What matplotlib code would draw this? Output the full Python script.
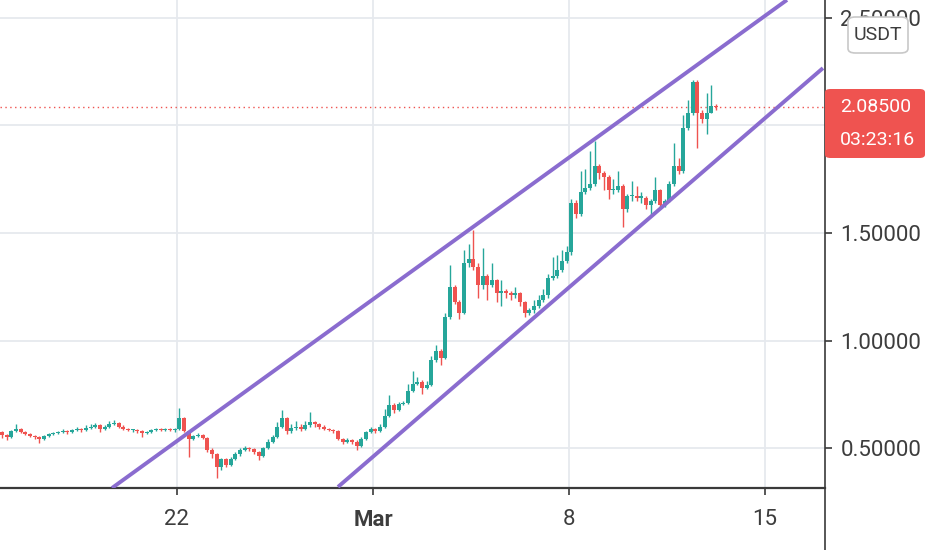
import numpy as np
import pandas as pd
import matplotlib
matplotlib.use("Agg")
import matplotlib.pyplot as plt
import matplotlib.dates as mdates
from matplotlib.patches import FancyBboxPatch
from matplotlib.lines import Line2D

# 4h candles
closes = [0.56, 0.55, 0.58, 0.59, 0.575, 0.565, 0.555, 0.55, 0.54, 0.555,
          0.565, 0.57, 0.575, 0.58, 0.575, 0.585, 0.59, 0.585, 0.595, 0.60,
          0.605, 0.59, 0.60, 0.61, 0.615, 0.60, 0.59, 0.585, 0.585, 0.58,
          0.57, 0.575, 0.585, 0.59, 0.585, 0.59, 0.585, 0.59, 0.64, 0.58,
          0.54, 0.555, 0.56, 0.545, 0.49, 0.47, 0.41, 0.45, 0.42, 0.45,
          0.47, 0.49, 0.50, 0.495, 0.48, 0.465, 0.50, 0.53, 0.55, 0.60,
          0.64, 0.58, 0.595, 0.60, 0.59, 0.605, 0.62, 0.61, 0.60, 0.59,
          0.585, 0.58, 0.54, 0.53, 0.535, 0.53, 0.51, 0.54, 0.575, 0.59,
          0.58, 0.60, 0.65, 0.70, 0.675, 0.705, 0.71, 0.765, 0.80, 0.805,
          0.78, 0.795, 0.91, 0.95, 0.92, 1.11, 1.25, 1.18, 1.13, 1.36,
          1.38, 1.34, 1.26, 1.30, 1.26, 1.28, 1.22, 1.23, 1.22, 1.21,
          1.22, 1.18, 1.13, 1.14, 1.16, 1.19, 1.21, 1.29, 1.30, 1.33,
          1.37, 1.41, 1.64, 1.59, 1.69, 1.71, 1.73, 1.81, 1.78, 1.76,
          1.70, 1.70, 1.72, 1.61, 1.67, 1.67, 1.665, 1.665, 1.63, 1.65,
          1.70, 1.63, 1.65, 1.73, 1.81, 1.79, 1.99, 2.06, 2.20, 2.06,
          2.03, 2.06, 2.09, 2.085]
highs = [0.58, 0.565, 0.585, 0.61, 0.595, 0.58, 0.57, 0.56, 0.555, 0.56,
         0.57, 0.575, 0.58, 0.59, 0.585, 0.59, 0.60, 0.595, 0.605, 0.61,
         0.615, 0.61, 0.605, 0.625, 0.63, 0.62, 0.605, 0.595, 0.59, 0.59,
         0.585, 0.58, 0.59, 0.595, 0.595, 0.595, 0.595, 0.595, 0.686, 0.645,
         0.585, 0.56, 0.57, 0.565, 0.55, 0.50, 0.475, 0.455, 0.455, 0.46,
         0.48, 0.50, 0.51, 0.505, 0.50, 0.485, 0.505, 0.54, 0.56, 0.62,
         0.677, 0.645, 0.61, 0.625, 0.61, 0.625, 0.667, 0.625, 0.615, 0.605,
         0.595, 0.59, 0.585, 0.545, 0.545, 0.54, 0.535, 0.55, 0.58, 0.60,
         0.595, 0.61, 0.68, 0.745, 0.71, 0.715, 0.72, 0.80, 0.86, 0.83,
         0.815, 0.81, 0.93, 0.98, 0.96, 1.13, 1.35, 1.26, 1.19, 1.42,
         1.45, 1.514, 1.36, 1.43, 1.31, 1.36, 1.285, 1.28, 1.24, 1.23,
         1.25, 1.225, 1.185, 1.15, 1.19, 1.21, 1.24, 1.31, 1.39, 1.40,
         1.42, 1.44, 1.66, 1.655, 1.79, 1.80, 1.88, 1.93, 1.82, 1.79,
         1.77, 1.75, 1.79, 1.73, 1.68, 1.74, 1.72, 1.69, 1.67, 1.66,
         1.76, 1.705, 1.66, 1.74, 1.92, 1.85, 2.05, 2.12, 2.21, 2.21,
         2.07, 2.15, 2.19, 2.10]
lows = [0.545, 0.535, 0.545, 0.575, 0.57, 0.56, 0.55, 0.54, 0.525, 0.535,
        0.55, 0.56, 0.565, 0.57, 0.565, 0.57, 0.58, 0.575, 0.58, 0.59,
        0.595, 0.575, 0.585, 0.595, 0.605, 0.595, 0.585, 0.58, 0.575, 0.57,
        0.55, 0.565, 0.57, 0.58, 0.58, 0.58, 0.58, 0.575, 0.585, 0.575,
        0.458, 0.535, 0.55, 0.54, 0.48, 0.455, 0.36, 0.40, 0.41, 0.415,
        0.445, 0.465, 0.485, 0.485, 0.47, 0.445, 0.46, 0.495, 0.525, 0.545,
        0.595, 0.565, 0.57, 0.585, 0.58, 0.585, 0.60, 0.60, 0.59, 0.585,
        0.58, 0.57, 0.535, 0.52, 0.525, 0.52, 0.49, 0.505, 0.535, 0.57,
        0.57, 0.575, 0.595, 0.645, 0.665, 0.67, 0.70, 0.705, 0.76, 0.795,
        0.75, 0.775, 0.79, 0.90, 0.885, 0.915, 1.10, 1.17, 1.10, 1.125,
        1.34, 1.33, 1.20, 1.24, 1.19, 1.25, 1.18, 1.16, 1.20, 1.19,
        1.20, 1.16, 1.11, 1.12, 1.13, 1.15, 1.18, 1.20, 1.28, 1.29,
        1.32, 1.36, 1.40, 1.57, 1.58, 1.68, 1.70, 1.72, 1.75, 1.70,
        1.66, 1.68, 1.69, 1.528, 1.60, 1.65, 1.65, 1.64, 1.61, 1.58,
        1.64, 1.61, 1.62, 1.645, 1.72, 1.775, 1.78, 1.98, 2.05, 1.895,
        2.01, 1.96, 2.06, 2.07]
first_open = 0.575

# channel lines (two anchor points each)
upper_dates = ["2021-02-19 16:18", "2021-03-15 18:51"]
upper_vals = [0.314, 2.584]
lower_dates = ["2021-02-27 18:00", "2021-03-17 01:41"]
lower_vals = [0.319, 2.267]

last_price = 2.085
countdown = "03:23:16"
xtick_dates = ["2021-02-22", "2021-03-01", "2021-03-08", "2021-03-15"]
xtick_labels = ["22", "Mar", "8", "15"]
yticks = [0.5, 1.0, 1.5, 2.0, 2.5]

green = "#26a69a"
red = "#ef5350"
purple = "#8a6ccf"
grid_c = "#e6e9ee"
txt_c = "#3d3d3d"

plt.rcParams['font.family'] = ['Roboto', 'DejaVu Sans']

fig = plt.figure(figsize=(9.32, 5.5), dpi=100)
ax = fig.add_axes([0, 62 / 550, 825 / 932, 488 / 550])

t = mdates.date2num(pd.date_range("2021-02-15 18:00", periods=len(closes), freq="4h"))
c = np.array(closes)
o = np.array([first_open] + closes[:-1])
h = np.array(highs)
l = np.array(lows)
cols = np.where(c >= o, green, red)

ax.vlines(t, l, h, colors=cols, lw=1.0, zorder=3)
body_h = np.maximum(np.abs(c - o), 0.005)
ax.bar(t, body_h, bottom=np.minimum(o, c), width=0.135, color=cols, zorder=4, lw=0)

ax.plot(mdates.date2num(pd.to_datetime(upper_dates)), upper_vals, color=purple, lw=2.8, zorder=5,
        solid_capstyle="butt")
ax.plot(mdates.date2num(pd.to_datetime(lower_dates)), lower_vals, color=purple, lw=2.8, zorder=5,
        solid_capstyle="butt")

ax.axhline(last_price, color=red, lw=1.0, ls=(0, (1, 2.5)), zorder=2)

d22 = mdates.date2num(pd.Timestamp("2021-02-22"))
ax.set_xlim(d22 - 6.321, d22 + 23.143)
ax.set_ylim(0.314, 2.5837)

ax.set_xticks(mdates.date2num(pd.to_datetime(xtick_dates)))
ax.set_xticklabels(xtick_labels)
ax.set_yticks(yticks)
# the 2.0 label sits under the last-price tag
ax.set_yticklabels(["" if v == 2.0 else "%.5f" % v for v in yticks])
ax.yaxis.tick_right()
ax.grid(True, color=grid_c, lw=1.3, zorder=0)
ax.set_axisbelow(True)

for s in ["left", "top"]:
    ax.spines[s].set_visible(False)
ax.spines["bottom"].set_color("#3a3a3a")
ax.spines["bottom"].set_linewidth(1.6)
ax.spines["right"].set_color("#3a3a3a")
ax.spines["right"].set_linewidth(1.2)

ax.tick_params(axis="y", length=5, width=1.2, color="#3a3a3a", pad=6, labelsize=16, labelcolor=txt_c)
ax.tick_params(axis="x", length=5, width=1.2, color="#3a3a3a", pad=10, labelsize=16, labelcolor=txt_c)
for lab in ax.get_xticklabels():
    if lab.get_text() == "Mar":
        lab.set_fontweight("bold")

# right spine continues below the time axis
fig.add_artist(Line2D([825 / 932, 825 / 932], [0, 62 / 550], color="#3a3a3a", lw=1.2))

# last price label
fig.add_artist(FancyBboxPatch((825 / 932, 392 / 550), 100 / 932, 69 / 550,
                              boxstyle="round,pad=0,rounding_size=0.006",
                              fc=red, ec="none", zorder=10))
fig.text(840 / 932, (550 - 107) / 550, "%.5f" % last_price, color="white", fontsize=14,
         va="center", ha="left", zorder=11)
fig.text(840 / 932, (550 - 140) / 550, countdown, color="white", fontsize=14,
         va="center", ha="left", zorder=11)

# currency box
fig.add_artist(FancyBboxPatch((848 / 932, 497 / 550), 60 / 932, 36 / 550,
                              boxstyle="round,pad=0,rounding_size=0.008",
                              fc="white", ec="#c8c8c8", lw=1.2, zorder=10))
fig.text(878 / 932, (550 - 35) / 550, "USDT", color=txt_c, fontsize=14,
         va="center", ha="center", zorder=11)

fig.savefig("out.png", dpi=100)
